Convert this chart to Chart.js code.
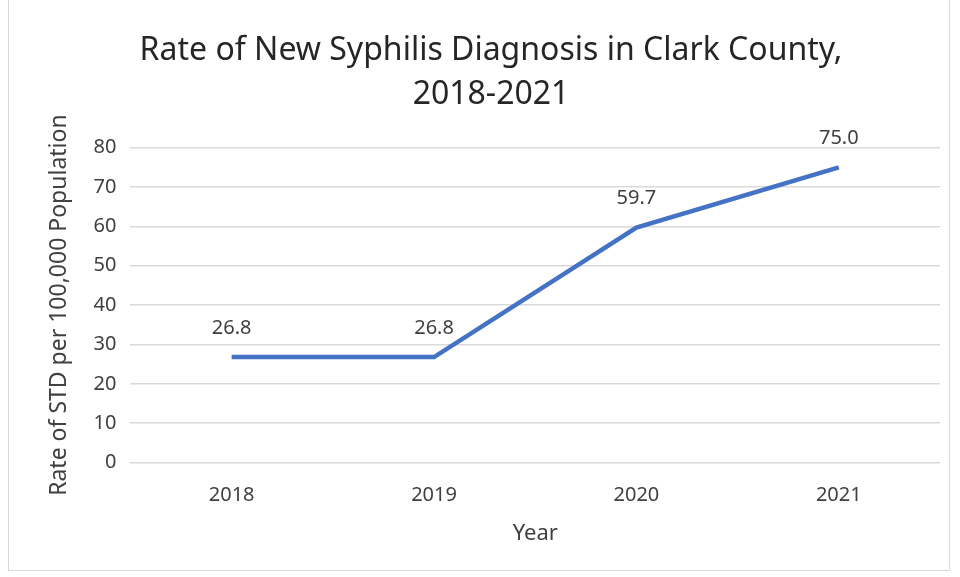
<!DOCTYPE html>
<html>
<head>
<meta charset="utf-8">
<script src="https://cdn.jsdelivr.net/npm/chart.js@4/dist/chart.umd.min.js"></script>
<style>
  html, body { margin: 0; padding: 0; background: #fff; }
  #wrap { position: relative; width: 960px; height: 577px; }
  #frame { position: absolute; left: 8px; top: -2px; width: 942px; height: 573px; border: 1px solid #d9d9d9; box-sizing: border-box; pointer-events: none; }
</style>
</head>
<body>
<div id="wrap">
  <canvas id="rateChart" width="960" height="577"></canvas>
  <div id="frame"></div>
</div>
<script>
var years = ['2018', '2019', '2020', '2021'];
var rates = [26.8, 26.8, 59.7, 75.0];
var yTicks = [0, 10, 20, 30, 40, 50, 60, 70, 80];

(function () {
  var font = "'Noto Sans', 'Open Sans', sans-serif";
  var textColor = '#404040';

  // value labels above each point
  var pointLabels = {
    id: 'pointLabels',
    afterDatasetsDraw: function (chart) {
      var ctx = chart.ctx;
      var meta = chart.getDatasetMeta(0);
      ctx.save();
      ctx.font = '20px ' + font;
      ctx.fillStyle = textColor;
      ctx.textAlign = 'center';
      ctx.textBaseline = 'middle';
      meta.data.forEach(function (pt, i) {
        ctx.fillText(rates[i].toFixed(1), pt.x, pt.y - 29);
      });
      ctx.restore();
    }
  };

  new Chart(document.getElementById('rateChart'), {
    type: 'line',
    data: {
      labels: years,
      datasets: [{
        data: rates,
        borderColor: '#4472C4',
        borderWidth: 4.5,
        pointRadius: 0,
        tension: 0,
        fill: false
      }]
    },
    options: {
      responsive: false,
      animation: false,
      layout: { padding: { left: 42, right: 20, top: 0, bottom: 30 } },
      plugins: {
        legend: { display: false },
        tooltip: { enabled: false },
        title: {
          display: true,
          text: ['Rate of New Syphilis Diagnosis in Clark County,', '2018-2021'],
          color: '#262626',
          font: { family: font, size: 32, weight: 'normal', lineHeight: 1.4 },
          padding: { top: 28, bottom: 30 }
        }
      },
      scales: {
        x: {
          offset: true,
          grid: { display: false },
          border: { display: false },
          ticks: { color: textColor, font: { family: font, size: 20 }, padding: 13 },
          title: { display: true, text: 'Year', color: textColor, font: { family: font, size: 22 }, padding: { top: 0, bottom: 0 } }
        },
        y: {
          min: 0,
          max: 80,
          afterBuildTicks: function (axis) { axis.ticks = yTicks.map(function (v) { return { value: v }; }); },
          grid: { color: '#d9d9d9', lineWidth: 1.5, drawTicks: false },
          border: { display: false },
          ticks: { color: textColor, font: { family: font, size: 20 }, padding: 14 },
          title: { display: true, text: 'Rate of STD per 100,000 Population', color: textColor, font: { family: font, size: 23 }, padding: { top: 4, bottom: 6 } }
        }
      }
    },
    plugins: [pointLabels]
  });
})();
</script>
</body>
</html>
